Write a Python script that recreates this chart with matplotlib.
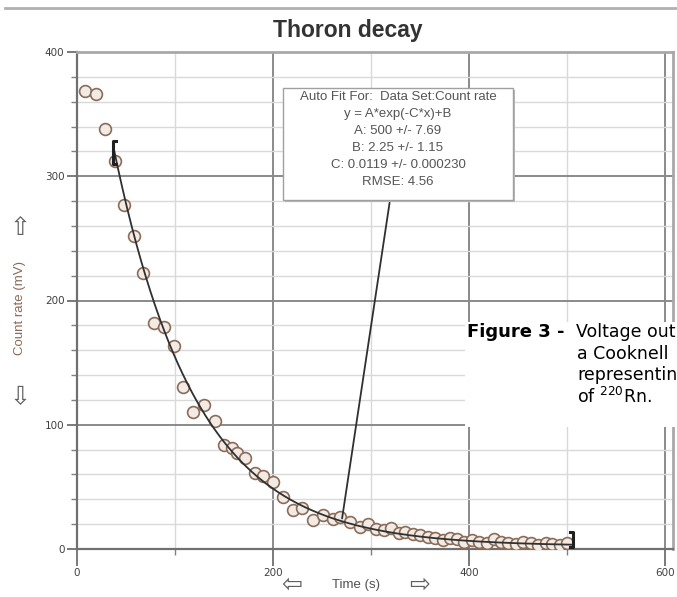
import numpy as np
import matplotlib.pyplot as plt
from matplotlib.patches import Rectangle
from matplotlib.lines import Line2D

time_s = [8, 19, 29, 39, 48, 58, 67, 79, 89, 99, 108, 118, 130, 141, 150, 158,
          163, 171, 182, 190, 200, 210, 220, 230, 241, 251, 261, 268, 279, 289,
          297, 305, 313, 320, 328, 335, 343, 350, 358, 365, 373, 380, 388, 395,
          403, 410, 418, 425, 433, 440, 448, 455, 463, 470, 478, 485, 493, 500]
count_mv = [369, 366, 338, 312, 277, 252, 222, 182, 179, 163, 130, 110, 116, 103,
            84, 81, 77, 73, 61, 59, 54, 42, 31, 33, 23, 27, 24, 26, 22, 18,
            20, 16, 15, 17, 13, 14, 12, 11, 10, 9, 7, 9, 8, 6,
            7, 6, 5, 8, 6, 5, 4, 6, 5, 3, 5, 4, 3, 5]

# fit parameters shown in the box
fit_A, fit_B, fit_C = 500, 2.25, 0.0119
fit_range = [37, 506]
fit_lines = ["Auto Fit For:  Data Set:Count rate",
             "y = A*exp(-C*x)+B",
             "A: 500 +/- 7.69",
             "B: 2.25 +/- 1.15",
             "C: 0.0119 +/- 0.000230",
             "RMSE: 4.56"]
pointer_t = 270

# caption lines as seen (cut at the right edge of the picture)
caption_lines = ["Voltage out", "a Cooknell", "representin", "of $^{220}$Rn."]

fig = plt.figure(figsize=(6.77, 5.97), dpi=100)
ax = fig.add_axes([77/677, 1-549/597, 596/677, 497/597])

ax.set_xlim(0, 608)
ax.set_ylim(0, 400)

# grid
ax.set_xticks([0, 200, 400, 600])
ax.set_xticks([100, 300, 500], minor=True)
ax.set_yticks([0, 100, 200, 300, 400])
ax.set_yticks(np.arange(0, 401, 20), minor=True)
ax.grid(which='major', color='#8a8a8a', lw=1.4)
ax.grid(which='minor', color='#d9d9d9', lw=1.0)
ax.set_axisbelow(True)

for side in ['top', 'right']:
    ax.spines[side].set_color('#a8a8a8')
    ax.spines[side].set_linewidth(2)
for side in ['left', 'bottom']:
    ax.spines[side].set_color('#707070')
    ax.spines[side].set_linewidth(1.6)

ax.tick_params(which='major', length=7, width=1.3, color='#707070',
               labelsize=7.5, labelcolor='#404040', pad=2)
ax.tick_params(axis='x', which='major', length=12)
ax.tick_params(which='minor', length=4, width=1.0, color='#808080')

# data and fit
ax.plot(time_s, count_mv, 'o', ms=8.5, mfc='#f2ebe5', mec='#8a6c58', mew=1.2, zorder=3)
tt = np.linspace(fit_range[0], fit_range[1], 200)
ax.plot(tt, fit_A*np.exp(-fit_C*tt) + fit_B, color='#303030', lw=1.3, zorder=4)

# selection brackets
y0 = fit_A*np.exp(-fit_C*fit_range[0]) + fit_B
y1 = fit_A*np.exp(-fit_C*fit_range[1]) + fit_B
ax.plot([fit_range[0]+3, fit_range[0], fit_range[0], fit_range[0]+3],
        [y0+4, y0+4, y0-14, y0-14], color='#202020', lw=2.2, zorder=5)
ax.plot([fit_range[1]-3, fit_range[1], fit_range[1], fit_range[1]-3],
        [y1+10, y1+10, y1-2, y1-2], color='#202020', lw=2.2, zorder=5, clip_on=False)

# fit info box
bx0, by0, bx1, by1 = 283/677, 1-200/597, 513/677, 1-88/597
fig.patches.append(Rectangle((bx0+0.003, by0-0.004), bx1-bx0, by1-by0,
                             transform=fig.transFigure, fc='#b8b8b8', ec='none', zorder=5))
fig.patches.append(Rectangle((bx0, by0), bx1-bx0, by1-by0, transform=fig.transFigure,
                             fc='white', ec='#a0a0a0', lw=1, zorder=6))
for i, s in enumerate(fit_lines):
    fig.text((bx0+bx1)/2, 1-(97+17*i)/597, s, ha='center', va='center',
             fontsize=9.5, color='#555555', family='Liberation Sans', zorder=7)
py = fit_A*np.exp(-fit_C*pointer_t) + fit_B
ax.annotate('', xy=(pointer_t, py), xytext=(390/677, by0), textcoords='figure fraction',
            arrowprops=dict(arrowstyle='-', color='#303030', lw=1.3), zorder=5)

# title
fig.text(348/677, 1-30/597, 'Thoron decay', ha='center', va='center', fontsize=16.5,
         fontweight='bold', color='#333333', family='Liberation Sans')
fig.add_artist(Line2D([5/677, 1], [1-8/597, 1-8/597], color='#b0b0b0', lw=2))

# axis labels with arrows
fig.text(20/677, 1-308/597, 'Count rate (mV)', rotation=90, ha='center', va='center',
         fontsize=9.5, color='#8a6a55', family='Liberation Sans')
fig.text(20/677, 1-228/597, '\u21e7', ha='center', va='center', fontsize=18, color='#606060')
fig.text(20/677, 1-397/597, '\u21e9', ha='center', va='center', fontsize=18, color='#606060')
fig.text(292/677, 1-585/597, '\u21e6', ha='center', va='center', fontsize=18, color='#606060')
fig.text(356/677, 1-585/597, 'Time (s)', ha='center', va='center', fontsize=9.5,
         color='#505050', family='Liberation Sans')
fig.text(420/677, 1-585/597, '\u21e8', ha='center', va='center', fontsize=18, color='#606060')

# caption overlay
fig.patches.append(Rectangle((465/677, 1-427/597), 212/677, 105/597,
                             transform=fig.transFigure, fc='white', ec='none', zorder=8))
fig.text(467/677, 1-332/597, 'Figure 3 -', ha='left', va='center', fontsize=13,
         fontweight='bold', family='DejaVu Sans', zorder=9)
fig.text(576/677, 1-332/597, caption_lines[0], ha='left', va='center', fontsize=12.5,
         family='DejaVu Sans', zorder=9)
for i, s in enumerate(caption_lines[1:]):
    fig.text(577/677, 1-(354+21.5*i)/597, s, ha='left', va='center', fontsize=12.5,
             family='DejaVu Sans', zorder=9)

fig.savefig('out.png', dpi=100)
